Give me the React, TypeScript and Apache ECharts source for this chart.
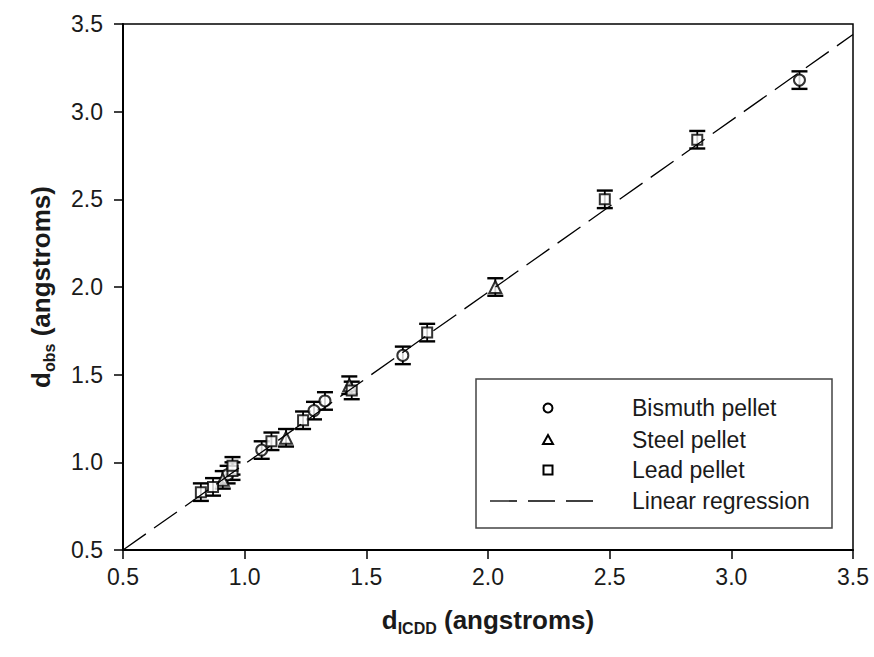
import React, { useEffect, useRef } from "react";
import * as echarts from "echarts";

// Bismuth pellet
const bismuthX = [0.93, 1.07, 1.285, 1.33, 1.65, 3.28];
const bismuthY = [0.93, 1.07, 1.295, 1.35, 1.61, 3.18];
const bismuthErr = [0.05, 0.05, 0.05, 0.05, 0.05, 0.05];

// Steel pellet
const steelX = [0.91, 1.17, 1.43, 2.03];
const steelY = [0.9, 1.14, 1.44, 2.0];
const steelErr = [0.05, 0.05, 0.05, 0.05];

// Lead pellet
const leadX = [0.82, 0.87, 0.95, 0.95, 1.11, 1.24, 1.44, 1.75, 2.48, 2.86];
const leadY = [0.83, 0.86, 0.95, 0.98, 1.12, 1.24, 1.41, 1.74, 2.5, 2.84];
const leadErr = [0.05, 0.05, 0.05, 0.05, 0.05, 0.05, 0.05, 0.05, 0.05, 0.05];

// Linear regression end points
const regX = [0.5, 3.5];
const regY = [0.5, 3.44];

const axisTicks = [0.5, 1.0, 1.5, 2.0, 2.5, 3.0, 3.5];

const legendNames = ["Bismuth pellet", "Steel pellet", "Lead pellet", "Linear regression"];

const FONT = "'Liberation Sans', Arial, sans-serif";
const INK = "#1a1a1a";

function zip(xs: number[], ys: number[]) {
  return xs.map((x, i) => [x, ys[i]]);
}
function zip3(xs: number[], ys: number[], es: number[]) {
  return xs.map((x, i) => [x, ys[i], es[i]]);
}

const errorRender = (params: any, api: any) => {
  const x = api.value(0);
  const y = api.value(1);
  const e = api.value(2);
  const top = api.coord([x, y + e]);
  const bot = api.coord([x, y - e]);
  const hw = 8;
  const st = { stroke: "#000", lineWidth: 2.4 };
  return {
    type: "group",
    children: [
      { type: "line", shape: { x1: top[0], y1: top[1], x2: bot[0], y2: bot[1] }, style: { stroke: "#000", lineWidth: 1.8 } },
      { type: "line", shape: { x1: top[0] - hw, y1: top[1], x2: top[0] + hw, y2: top[1] }, style: st },
      { type: "line", shape: { x1: bot[0] - hw, y1: bot[1], x2: bot[0] + hw, y2: bot[1] }, style: st },
    ],
  };
};

export default function App() {
  const ref = useRef<HTMLDivElement>(null);
  useEffect(() => {
    if (!ref.current) return;
    const chart = echarts.init(ref.current, null, { renderer: "svg" });
    const markerStyle = { color: "#fff", borderColor: "#000", borderWidth: 2 };
    const lx = 476, ly = 379, lw = 356, lh = 149;
    const symX = 548;
    const textX = 632;
    const rows = [408, 440, 470, 501];
    chart.setOption({
      animation: false,
      backgroundColor: "#fff",
      grid: { left: 123, right: 21, top: 24, bottom: 107, show: true, borderColor: "#000", borderWidth: 1.5 },
      xAxis: {
        type: "value",
        min: axisTicks[0],
        max: axisTicks[axisTicks.length - 1],
        interval: 0.5,
        splitLine: { show: false },
        axisLine: { show: true, onZero: false, lineStyle: { color: "#000", width: 2 } },
        axisTick: { show: true, inside: false, length: 9, lineStyle: { color: "#000", width: 1.5 } },
        axisLabel: { color: INK, fontFamily: FONT, fontSize: 23, margin: 15, formatter: (v: number) => v.toFixed(1) },
        name: "{d|d}{s|ICDD}{d| (angstroms)}",
        nameLocation: "middle",
        nameGap: 54,
        nameTextStyle: {
          rich: {
            d: { fontFamily: FONT, fontSize: 26, fontWeight: "bold", color: INK },
            s: { fontFamily: FONT, fontSize: 16, fontWeight: "bold", color: INK, verticalAlign: "bottom", padding: [16, 0, 0, 0] },
          },
        },
      },
      yAxis: {
        type: "value",
        min: axisTicks[0],
        max: axisTicks[axisTicks.length - 1],
        interval: 0.5,
        splitLine: { show: false },
        axisLine: { show: true, onZero: false, lineStyle: { color: "#000", width: 2 } },
        axisTick: { show: true, inside: false, length: 9, lineStyle: { color: "#000", width: 1.5 } },
        axisLabel: { color: INK, fontFamily: FONT, fontSize: 23, margin: 20, formatter: (v: number) => v.toFixed(1) },
        name: "{d|d}{s|obs}{d| (angstroms)}",
        nameLocation: "middle",
        nameGap: 66,
        nameTextStyle: {
          rich: {
            d: { fontFamily: FONT, fontSize: 26, fontWeight: "bold", color: INK },
            s: { fontFamily: FONT, fontSize: 16, fontWeight: "bold", color: INK, verticalAlign: "bottom", padding: [16, 0, 0, 0] },
          },
        },
      },
      series: [
        { type: "custom", name: "err-b", renderItem: errorRender, data: zip3(bismuthX, bismuthY, bismuthErr), z: 2, silent: true },
        { type: "custom", name: "err-s", renderItem: errorRender, data: zip3(steelX, steelY, steelErr), z: 2, silent: true },
        { type: "custom", name: "err-l", renderItem: errorRender, data: zip3(leadX, leadY, leadErr), z: 2, silent: true },
        { type: "scatter", name: legendNames[0], symbol: "circle", symbolSize: 11, itemStyle: markerStyle, data: zip(bismuthX, bismuthY), z: 3 },
        { type: "scatter", name: legendNames[1], symbol: "triangle", symbolSize: 12, itemStyle: markerStyle, data: zip(steelX, steelY), z: 3 },
        { type: "scatter", name: legendNames[2], symbol: "rect", symbolSize: 10, itemStyle: markerStyle, data: zip(leadX, leadY), z: 3 },
        {
          type: "line",
          name: legendNames[3],
          data: zip(regX, regY),
          symbol: "none",
          lineStyle: { color: "#000", width: 1.3, type: [28, 10] },
          z: 4,
          silent: true,
        },
      ],
      graphic: [
        { type: "rect", shape: { x: lx, y: ly, width: lw, height: lh }, style: { fill: "#fff", stroke: "#444", lineWidth: 1.5 }, z: 10 },
        { type: "circle", shape: { cx: symX, cy: rows[0], r: 4.5 }, style: { fill: "#fff", stroke: "#000", lineWidth: 2 }, z: 11 },
        { type: "polygon", shape: { points: [[symX, rows[1] - 5], [symX - 5, rows[1] + 4], [symX + 5, rows[1] + 4]] }, style: { fill: "#fff", stroke: "#000", lineWidth: 2 }, z: 11 },
        { type: "rect", shape: { x: symX - 4.5, y: rows[2] - 4.5, width: 9, height: 9 }, style: { fill: "#fff", stroke: "#000", lineWidth: 2 }, z: 11 },
        { type: "line", shape: { x1: 490, y1: rows[3], x2: 593, y2: rows[3] }, style: { stroke: "#000", lineWidth: 1.3, lineDash: [27, 11] }, z: 11 },
        ...legendNames.map((n, i) => ({
          type: "text",
          x: textX,
          y: rows[i],
          style: { text: n, fill: INK, font: `23px ${FONT}`, textVerticalAlign: "middle", verticalAlign: "middle" },
          z: 11,
        })),
      ],
    });
    return () => chart.dispose();
  }, []);
  return <div ref={ref} style={{ width: 874, height: 657, position: "absolute", left: 0, top: 0 }} />;
}
